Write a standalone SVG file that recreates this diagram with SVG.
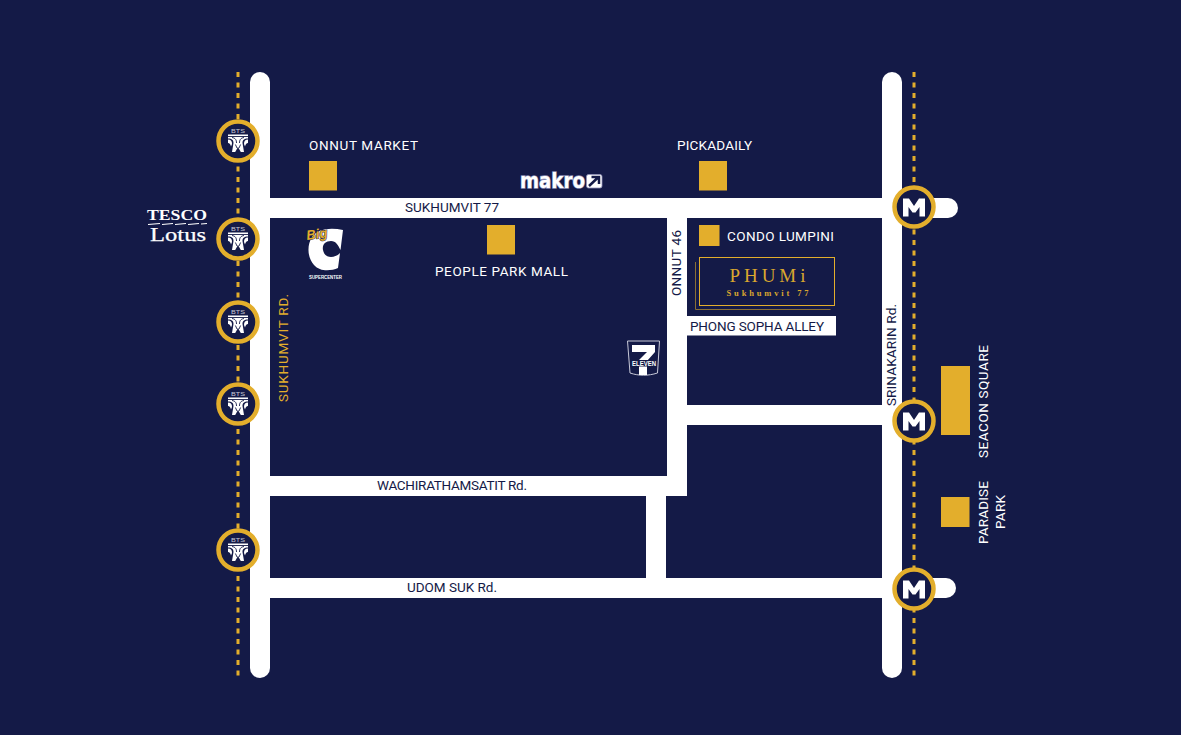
<svg xmlns="http://www.w3.org/2000/svg" width="1181" height="735" viewBox="0 0 1181 735">
<style>
.r{fill:#fff}
.sq{fill:#e3ae2c}
.rail{fill:none;stroke:#e3ae2c;stroke-width:3;stroke-dasharray:5 5.500}
.ring{fill:#141a47;stroke:#e3ae2c;stroke-width:4.500}
.t{font-family:Roboto,"Noto Sans",sans-serif;font-size:13.500px}
.w{fill:#fff}.d{fill:#141a47}.y{fill:#e3ae2c}
</style>
<defs>
<g id="bts">
<text x="0" y="-7.800" text-anchor="middle" font-family="Liberation Sans,sans-serif" font-size="5.500" fill="#c9cad8" textLength="14" lengthAdjust="spacingAndGlyphs">BTS</text>
<path fill="#fff" d="M-10-6.500H10V-2.500C6-2.500 4.500-1 4.500 2L6 11H2.800L0 6-2.800 11H-6L-4.500 2C-4.500-1-6-2.500-10-2.500Z"/>
<path fill="#fff" d="M-10-1.500C-7-1.500-6 0-6 3L-7 5.500C-7.500 3.500-8.500 2-10 2ZM10-1.500C7-1.500 6 0 6 3L7 5.500C7.500 3.500 8.500 2 10 2Z"/>
<path fill="none" stroke="#141a47" stroke-width=".9" d="M-10-4.500H10M-6-3.500C-2.500-3-1.500-1-1.500 2M6-3.500C2.500-3 1.500-1 1.500 2M-2.600 3.500L-1 7M2.600 3.500L1 7"/>
</g>
<path id="mm" fill="#fff" d="M-11 9V-9H-5L0-1.500 5-9H11V9H5.500V-.5L1.500 5H-1.500L-5.500-.5V9Z"/>
</defs>
<rect width="1181" height="735" fill="#141a47"/>
<g id="connectors">
<path class="rail" d="M238 72V678"/>
<path class="rail" d="M914 72V678"/>
<rect class="r" x="250" y="72" width="20" height="606" rx="10"/>
<rect class="r" x="882" y="72" width="20" height="606" rx="10"/>
<path class="r" d="M270 198H948a10 10 0 0 1 0 20H270Z"/>
<path class="r" d="M270 578H946a10 10 0 0 1 0 20H270Z"/>
<rect class="r" x="270" y="476" width="417" height="20"/>
<rect class="r" x="667" y="218" width="20" height="278"/>
<rect class="r" x="687" y="405" width="195" height="20"/>
<rect class="r" x="646" y="496" width="20" height="82"/>
<rect class="r" x="687" y="316" width="149" height="19.500"/>
</g>
<g id="bts-stations">
<g id="bts1"><circle class="ring" cx="238" cy="141" r="19.500"/><use href="#bts" x="238" y="141"/></g>
<g id="bts2"><circle class="ring" cx="238" cy="239" r="19.500"/><use href="#bts" x="238" y="239"/></g>
<g id="bts3"><circle class="ring" cx="238" cy="322" r="19.500"/><use href="#bts" x="238" y="322"/></g>
<g id="bts4"><circle class="ring" cx="238" cy="404" r="19.500"/><use href="#bts" x="238" y="404"/></g>
<g id="bts5"><circle class="ring" cx="238" cy="550" r="19.500"/><use href="#bts" x="238" y="550"/></g>
</g>
<g id="mrt-stations">
<g id="m1"><circle class="ring" cx="914" cy="207" r="19.500"/><use href="#mm" x="914" y="207.500"/></g>
<g id="m2"><circle class="ring" cx="914" cy="421" r="19.500"/><use href="#mm" x="914" y="421.500"/></g>
<g id="m3"><circle class="ring" cx="914" cy="589" r="19.500"/><use href="#mm" x="914" y="589.500"/></g>
</g>
<g id="onnut-market"><rect class="sq" x="309" y="161" width="28" height="29.500"/><text class="t w" x="309" y="150" textLength="109" lengthAdjust="spacing">ONNUT MARKET</text></g>
<g id="pickadaily"><rect class="sq" x="699" y="161" width="28" height="29.500"/><text class="t w" x="677" y="150" textLength="75">PICKADAILY</text></g>
<g id="people-park"><rect class="sq" x="487" y="225" width="28" height="29.500"/><text class="t w" x="435" y="275.500" textLength="133">PEOPLE PARK MALL</text></g>
<g id="condo"><rect class="sq" x="699" y="225" width="20.500" height="21"/><text class="t w" x="727" y="240.500" textLength="107">CONDO LUMPINI</text></g>
<g id="phumi">
<path d="M695.500 262V309.500H830.500" fill="none" stroke="#8a6f35" stroke-width="1"/>
<rect x="699.500" y="257.500" width="135" height="48" fill="#141a47" stroke="#e3ae2c" stroke-width="1"/>
<text x="767.500" y="281.500" text-anchor="middle" font-family="Liberation Serif,serif" font-size="19" fill="#d9a72e" textLength="76">PHUMi</text>
<text x="767.500" y="296" text-anchor="middle" font-family="Liberation Serif,serif" font-size="8.500" font-weight="700" fill="#d9a72e" textLength="82">Sukhumvit 77</text>
</g>
<g id="seacon"><rect class="sq" x="941" y="366" width="29" height="69"/><text class="t w" transform="translate(987.500 458) rotate(-90)" textLength="113">SEACON SQUARE</text></g>
<g id="paradise"><rect class="sq" x="941" y="497" width="28.500" height="30"/><text class="t w" transform="translate(987.500 544) rotate(-90)" textLength="63">PARADISE</text><text class="t w" transform="translate(1004.500 529) rotate(-90)" textLength="34">PARK</text></g>
<g id="road-labels">
<text class="t d" x="405" y="212" textLength="94">SUKHUMVIT 77</text>
<text class="t d" x="377" y="490" textLength="150">WACHIRATHAMSATIT Rd.</text>
<text class="t d" x="407" y="592" textLength="90">UDOM SUK Rd.</text>
<text class="t d" x="690" y="330.500" textLength="134">PHONG SOPHA ALLEY</text>
<text class="t d" transform="translate(681 296) rotate(-90)" textLength="66">ONNUT 46</text>
<text class="t d" transform="translate(896 406) rotate(-90)" textLength="102">SRINAKARIN Rd.</text>
<text class="t y" transform="translate(288 402) rotate(-90)" textLength="108">SUKHUMVIT RD.</text>
</g>
<g id="tesco-lotus">
<text x="147" y="220" font-family="Liberation Serif,serif" font-weight="700" font-size="15.500" fill="#fff" textLength="60" lengthAdjust="spacingAndGlyphs">TESCO</text>
<path d="M148 224.500L160 223.500M162 224.500L173 223.500M175 224.500L186 223.500M188 224.500L199 223.500M201 224L207 223.500" stroke="#fff" stroke-width="1.200" fill="none"/>
<text x="150" y="241" font-family="Liberation Serif,serif" font-size="19.500" fill="#fff" stroke="#fff" stroke-width=".25" textLength="56" lengthAdjust="spacingAndGlyphs">Lotus</text>
</g>
<g id="big-c">
<path fill="#fff" d="M343 230L340.500 250C338 245 336 241 331 241 325 241 322 245 323 250 324 255 327 257 331 257 335 257 338 255 340 253L338 268C331 271 320 272 314 265 307 257 307 245 312 237 317 229 330 227 343 230Z"/>
<text x="307" y="240" transform="rotate(-8 307 240)" font-family="Liberation Sans,sans-serif" font-weight="700" font-style="italic" font-size="13.500" fill="#e3ae2c" stroke="#141a47" stroke-width="1" paint-order="stroke" textLength="21" lengthAdjust="spacingAndGlyphs">Big</text>
<text x="309" y="278.500" font-family="Liberation Sans,sans-serif" font-weight="700" font-size="4.500" fill="#fff" textLength="33" lengthAdjust="spacingAndGlyphs">SUPERCENTER</text>
</g>
<g id="makro">
<text x="520" y="187.500" font-family="DejaVu Sans,sans-serif" font-weight="700" font-size="21" fill="#fff" stroke="#8f91b8" stroke-width="1.500" paint-order="stroke" textLength="65" lengthAdjust="spacingAndGlyphs">makro</text>
<rect x="586.500" y="174.500" width="15.500" height="13.500" rx="2" fill="#fff" stroke="#8f91b8" stroke-width=".8"/>
<path d="M589 186L598 177.500M591.500 177H599V184" fill="none" stroke="#141a47" stroke-width="2.500"/>
</g>
<g id="seven-eleven">
<path d="M627.500 341H659.500L657.500 373C648 376 639 376 630 373Z" fill="#141a47" stroke="#c8c9d8" stroke-width="1"/>
<path fill="#fff" d="M632 345H655V352L647 361V375H639V360L647 352H632Z"/>
<rect x="632" y="360" width="24" height="6.500" fill="#141a47"/>
<text x="644" y="366" text-anchor="middle" font-family="Liberation Sans,sans-serif" font-weight="700" font-size="6.500" fill="#fff" textLength="24" lengthAdjust="spacingAndGlyphs">ELEVEN</text>
</g>
</svg>
